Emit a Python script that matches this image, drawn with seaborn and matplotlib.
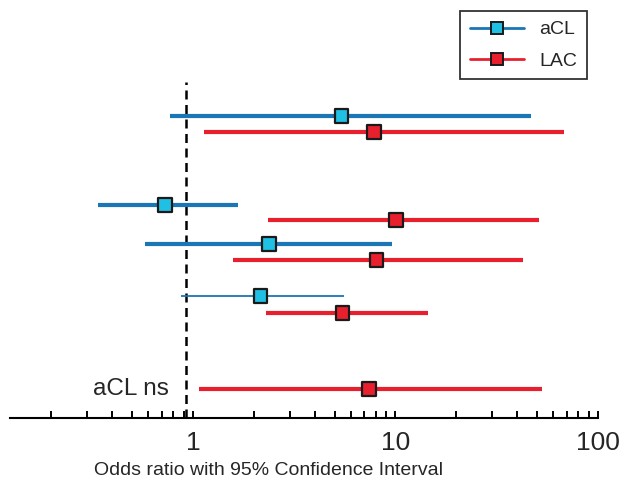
import numpy as np
import pandas as pd
import matplotlib
matplotlib.use('Agg')
import matplotlib.pyplot as plt
from matplotlib.lines import Line2D
from matplotlib.ticker import LogLocator, NullFormatter, FixedLocator, FixedFormatter
import seaborn as sns

# rows from top to bottom
antibody = ['aCL', 'LAC', 'aCL', 'LAC', 'aCL', 'LAC', 'aCL', 'LAC', 'LAC']
odds = [5.40, 7.85, 0.73, 10.06, 2.37, 8.07, 2.16, 5.48, 7.42]
ci_low = [0.77, 1.13, 0.34, 2.35, 0.58, 1.58, 0.87, 2.29, 1.07]
ci_high = [46.9, 67.7, 1.66, 51.2, 9.6, 42.7, 5.58, 14.4, 53.1]
row_pos = [8.99, 8.51, 6.34, 5.89, 5.18, 4.70, 3.63, 3.13, 0.86]
thin_row = [False, False, False, False, False, False, True, False, False]

line_col = {'aCL': '#1a76b5', 'LAC': '#e8202e'}
fill_col = {'aCL': '#20c0e4', 'LAC': '#e8202e'}

df = pd.DataFrame({'antibody': antibody, 'odds': odds, 'lo': ci_low,
                   'hi': ci_high, 'y': row_pos, 'thin': thin_row})

sns.set_theme(style='white')
plt.rcParams['font.family'] = ['Liberation Sans', 'DejaVu Sans']

fig = plt.figure(figsize=(6.23, 4.8), dpi=100)
ax = fig.add_axes([0.016, 0.129, 0.944, 0.70])

# confidence intervals
for _, r in df.iterrows():
    ax.plot([r['lo'], r['hi']], [r['y'], r['y']], color=line_col[r['antibody']],
            lw=1.3 if r['thin'] else 3.0, solid_capstyle='butt', zorder=2)

# reference line
ax.axvline(0.92, color='black', lw=1.8, ls=(0, (3.6, 2.2)), zorder=1)

sns.scatterplot(data=df, x='odds', y='y', hue='antibody', palette=fill_col,
                marker='s', s=95, edgecolor='#1a1a1a', linewidth=1.6,
                legend=False, ax=ax, zorder=3)

ax.set_xscale('log')
ax.set_xlim(0.125, 100)
ax.set_ylim(0, 10)

for s in ['top', 'left', 'right']:
    ax.spines[s].set_visible(False)
ax.spines['bottom'].set_linewidth(1.5)
ax.spines['bottom'].set_color('black')
ax.set_yticks([])
ax.set_ylabel('')

ax.xaxis.set_major_locator(FixedLocator([1, 10, 100]))
ax.xaxis.set_major_formatter(FixedFormatter(['1', '10', '100']))
ax.xaxis.set_minor_locator(LogLocator(base=10, subs=np.arange(2, 10)))
ax.xaxis.set_minor_formatter(NullFormatter())
ax.tick_params(axis='x', which='both', direction='in', bottom=True,
               length=5, width=1.4, color='black', labelsize=19, pad=9)

ax.set_xlabel('Odds ratio with 95% Confidence Interval', fontsize=14)
ax.xaxis.set_label_coords(0.44, -0.13)

ax.text(0.76, row_pos[-1], 'aCL ns', ha='right', va='center', fontsize=17.5)

handles = [Line2D([], [], color=line_col[k], lw=2, marker='s', markersize=9,
                  markerfacecolor=fill_col[k], markeredgecolor='#1a1a1a',
                  markeredgewidth=1.4) for k in ['aCL', 'LAC']]
leg = fig.legend(handles, ['aCL', 'LAC'], loc='upper right',
                 bbox_to_anchor=(0.958, 0.997), fontsize=14, frameon=True,
                 fancybox=False, edgecolor='black', handlelength=2.8,
                 borderpad=0.5, labelspacing=0.7)
leg.get_frame().set_linewidth(1.3)

fig.savefig('out.png', dpi=100)
